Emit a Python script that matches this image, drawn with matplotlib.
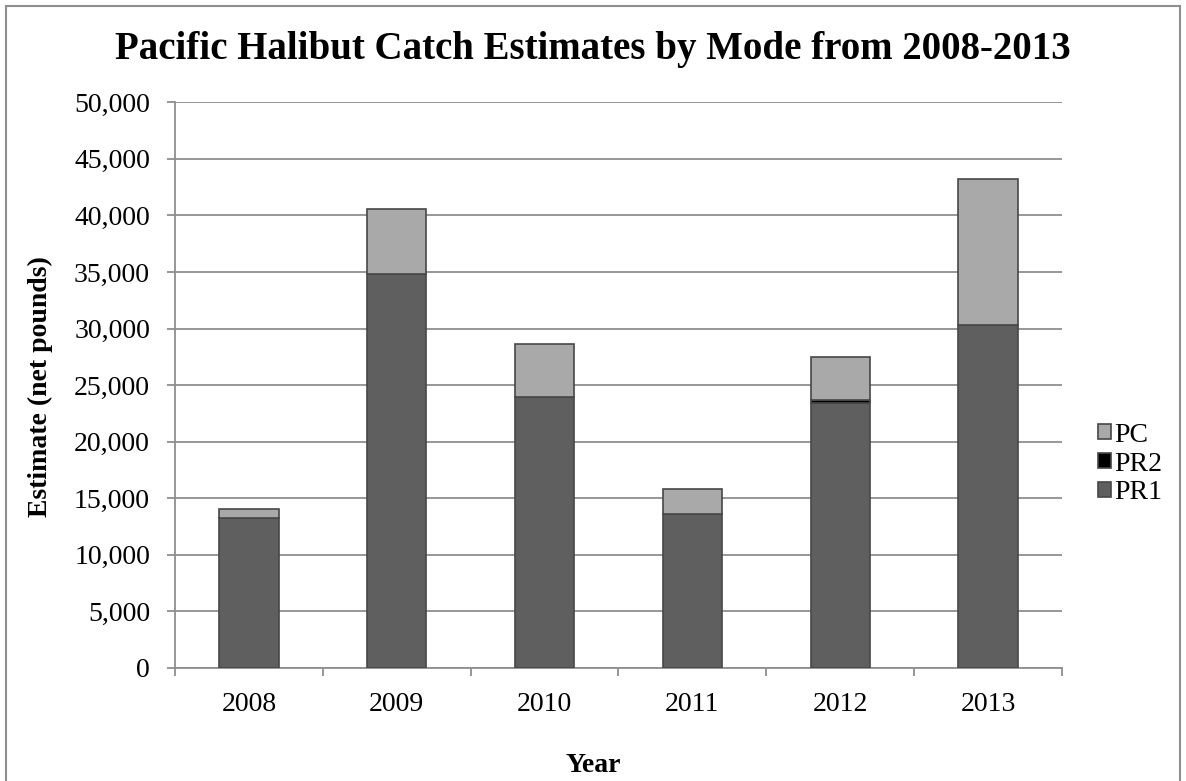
import matplotlib
matplotlib.use("Agg")
import matplotlib.pyplot as plt
from matplotlib.patches import Rectangle
from matplotlib.ticker import FuncFormatter, FixedLocator
import numpy as np

years = ["2008", "2009", "2010", "2011", "2012", "2013"]
pr1 = [13300, 34850, 23950, 13650, 23450, 30350]
pr2 = [0, 0, 0, 0, 200, 0]
pc = [750, 5750, 4650, 2200, 3800, 12900]

plt.rcParams["font.family"] = ["Liberation Serif", "DejaVu Serif"]

fig = plt.figure(figsize=(11.86, 7.81), dpi=100)
ax = fig.add_axes([0.1476, 0.1447, 0.7478, 0.7243])

x = np.arange(len(years))
w = 0.4
edge = "#474747"
ax.bar(x, pr1, w, color="#5f5f5f", edgecolor=edge, linewidth=1.2, label="PR1", zorder=3)
ax.bar(x, pr2, w, bottom=pr1, color="#000000", edgecolor=edge, linewidth=1.2, label="PR2", zorder=3)
bottom2 = np.array(pr1) + np.array(pr2)
ax.bar(x, pc, w, bottom=bottom2, color="#a9a9a9", edgecolor=edge, linewidth=1.2, label="PC", zorder=3)

ax.set_ylim(0, 50000)
ax.set_xlim(-0.5, len(years) - 0.5)
ax.yaxis.set_major_locator(FixedLocator(np.arange(0, 50001, 5000)))
ax.yaxis.set_major_formatter(FuncFormatter(lambda v, p: f"{int(v):,}"))
ax.grid(axis="y", color="#8f8f8f", linewidth=1.3, zorder=0)
ax.set_axisbelow(True)

ax.set_xticks(x)
ax.set_xticklabels(years)
ax.set_xticks(np.arange(-0.5, len(years), 1.0), minor=True)
ax.tick_params(axis="x", which="major", length=0, labelsize=20, pad=17)
ax.tick_params(axis="x", which="minor", length=6, color="#8f8f8f", width=1.3)
ax.tick_params(axis="y", length=6, color="#8f8f8f", width=1.3, labelsize=20, pad=12)

for s in ["top", "right"]:
    ax.spines[s].set_visible(False)
for s in ["left", "bottom"]:
    ax.spines[s].set_color("#8f8f8f")
    ax.spines[s].set_linewidth(1.3)

fig.text(40 / 1186, 0.505, "Estimate (net pounds)", rotation=90, ha="center",
         va="center", fontsize=20, fontweight="bold")
fig.text(0.5, 1 - 765 / 781, "Year", ha="center", va="center",
         fontsize=20, fontweight="bold")

fig.text(0.5, 1 - 49 / 781, "Pacific Halibut Catch Estimates by Mode from 2008-2013",
         ha="center", va="center", fontsize=28, fontweight="bold")

handles, labels = ax.get_legend_handles_labels()
leg = fig.legend(handles[::-1], labels[::-1], loc="center left",
                 bbox_to_anchor=(1098 / 1186, 1 - 464 / 781), frameon=False, fontsize=20,
                 handlelength=0.45, handleheight=0.45, handletextpad=0.15,
                 labelspacing=0.14, borderaxespad=0, borderpad=0)

fig.add_artist(Rectangle((0.005, -0.01), 0.99, 1.002, transform=fig.transFigure,
                         fill=False, edgecolor="#8f8f8f", linewidth=1.5))

fig.savefig("out.png", dpi=100)
